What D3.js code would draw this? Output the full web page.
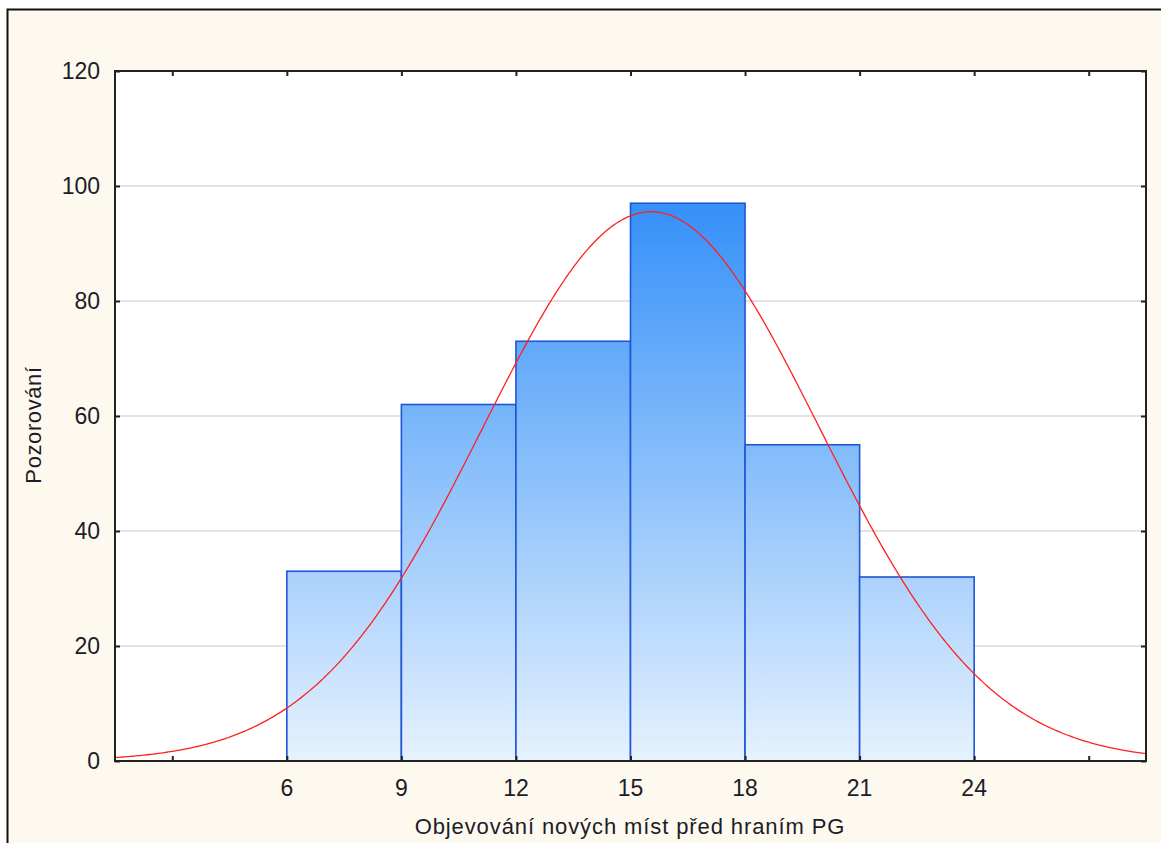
<!DOCTYPE html>
<html>
<head>
<meta charset="utf-8">
<script src="https://cdn.jsdelivr.net/npm/d3@7"></script>
<style>
  body { margin: 0; background: #ffffff; }
  text { font-family: "Liberation Sans", Arial, sans-serif; fill: #1c1c28; }
</style>
</head>
<body>
<div id="chart"></div>
<script>
// histogram bins (lower edge) and counts
var binStarts = [6, 9, 12, 15, 18, 21];
var binWidth = 3;
var counts = [33, 62, 73, 97, 55, 32];

// fitted normal curve parameters
var fitMean = 15.54;
var fitSd = 4.41;

var xTicks = [3, 6, 9, 12, 15, 18, 21, 24, 27];
var xLabels = [6, 9, 12, 15, 18, 21, 24];
var yTicks = [0, 20, 40, 60, 80, 100, 120];

var width = 1161;
var height = 843;
var margin = { left: 115, top: 71, right: 1146, bottom: 761 };

var svg = d3.select("#chart").append("svg")
    .attr("width", width)
    .attr("height", height);

// cream background with black frame
svg.append("rect")
    .attr("x", 0).attr("y", 0)
    .attr("width", width).attr("height", height)
    .attr("fill", "#ffffff");
svg.append("rect")
    .attr("x", 7.5).attr("y", 9.5)
    .attr("width", width + 10).attr("height", height + 10)
    .attr("fill", "#fef9ee")
    .attr("stroke", "#111")
    .attr("stroke-width", 2);

var x = d3.scaleLinear().domain([1.5, 28.5]).range([margin.left, margin.right]);
var y = d3.scaleLinear().domain([0, 120]).range([margin.bottom, margin.top]);

// plot area
svg.append("rect")
    .attr("x", margin.left).attr("y", margin.top)
    .attr("width", margin.right - margin.left)
    .attr("height", margin.bottom - margin.top)
    .attr("fill", "#ffffff");

// gridlines
svg.append("g").selectAll("line")
    .data(yTicks.filter(function(d) { return d > 0 && d < 120; }))
    .enter().append("line")
    .attr("x1", margin.left).attr("x2", margin.right)
    .attr("y1", function(d) { return y(d); })
    .attr("y2", function(d) { return y(d); })
    .attr("stroke", "#d9d9d9")
    .attr("stroke-width", 1.5);

// gradient for bars, across the whole plot height
var defs = svg.append("defs");
var grad = defs.append("linearGradient")
    .attr("id", "barGrad")
    .attr("gradientUnits", "userSpaceOnUse")
    .attr("x1", 0).attr("x2", 0)
    .attr("y1", y(0)).attr("y2", y(100));
grad.append("stop").attr("offset", "0%").attr("stop-color", "#e6f2fe");
grad.append("stop").attr("offset", "100%").attr("stop-color", "#2f8df8");

var bins = binStarts.map(function(s, i) { return { x0: s, x1: s + binWidth, n: counts[i] }; });

svg.append("g").selectAll("rect")
    .data(bins)
    .enter().append("rect")
    .attr("x", function(d) { return x(d.x0); })
    .attr("y", function(d) { return y(d.n); })
    .attr("width", function(d) { return x(d.x1) - x(d.x0); })
    .attr("height", function(d) { return y(0) - y(d.n); })
    .attr("fill", "url(#barGrad)")
    .attr("stroke", "#1f56d6")
    .attr("stroke-width", 1.6);

// normal curve scaled to counts
var total = d3.sum(counts);
var curveData = d3.range(1.5, 28.5001, 0.05);
var line = d3.line()
    .x(function(d) { return x(d); })
    .y(function(d) {
      var z = (d - fitMean) / fitSd;
      return y(total * binWidth / (fitSd * Math.sqrt(2 * Math.PI)) * Math.exp(-0.5 * z * z));
    });
svg.append("path")
    .datum(curveData)
    .attr("d", line)
    .attr("fill", "none")
    .attr("stroke", "#ff2020")
    .attr("stroke-width", 1.3);

// axes frame
var axisColor = "#222";
svg.append("g")
    .attr("transform", "translate(0," + margin.bottom + ")")
    .call(d3.axisBottom(x).tickValues(xTicks).tickSize(-5).tickFormat(""))
    .call(function(g) { g.select(".domain").remove(); });
svg.append("g")
    .attr("transform", "translate(0," + margin.top + ")")
    .call(d3.axisTop(x).tickValues(xTicks).tickSize(-5).tickFormat(""))
    .call(function(g) { g.select(".domain").remove(); });
svg.append("g")
    .attr("transform", "translate(" + margin.left + ",0)")
    .call(d3.axisLeft(y).tickValues(yTicks).tickSize(-5).tickFormat(""))
    .call(function(g) { g.select(".domain").remove(); });
svg.append("g")
    .attr("transform", "translate(" + margin.right + ",0)")
    .call(d3.axisRight(y).tickValues(yTicks).tickSize(-5).tickFormat(""))
    .call(function(g) { g.select(".domain").remove(); });
svg.selectAll(".tick line").attr("stroke", axisColor).attr("stroke-width", 2);

svg.append("rect")
    .attr("x", margin.left).attr("y", margin.top)
    .attr("width", margin.right - margin.left)
    .attr("height", margin.bottom - margin.top)
    .attr("fill", "none")
    .attr("stroke", axisColor)
    .attr("stroke-width", 2);

// tick labels
svg.append("g").selectAll("text")
    .data(yTicks)
    .enter().append("text")
    .attr("x", 100)
    .attr("y", function(d) { return y(d) + 8; })
    .attr("text-anchor", "end")
    .attr("font-size", 23)
    .text(function(d) { return d; });

svg.append("g").selectAll("text")
    .data(xLabels)
    .enter().append("text")
    .attr("x", function(d) { return x(d); })
    .attr("y", 796)
    .attr("text-anchor", "middle")
    .attr("font-size", 23)
    .text(function(d) { return d; });

// axis titles
svg.append("text")
    .attr("x", 630)
    .attr("y", 834)
    .attr("text-anchor", "middle")
    .attr("font-size", 22)
    .attr("letter-spacing", 0.9)
    .text("Objevování nových míst před hraním PG");

svg.append("text")
    .attr("transform", "translate(41,425) rotate(-90)")
    .attr("text-anchor", "middle")
    .attr("font-size", 22)
    .attr("letter-spacing", 0.6)
    .text("Pozorování");
</script>
</body>
</html>
